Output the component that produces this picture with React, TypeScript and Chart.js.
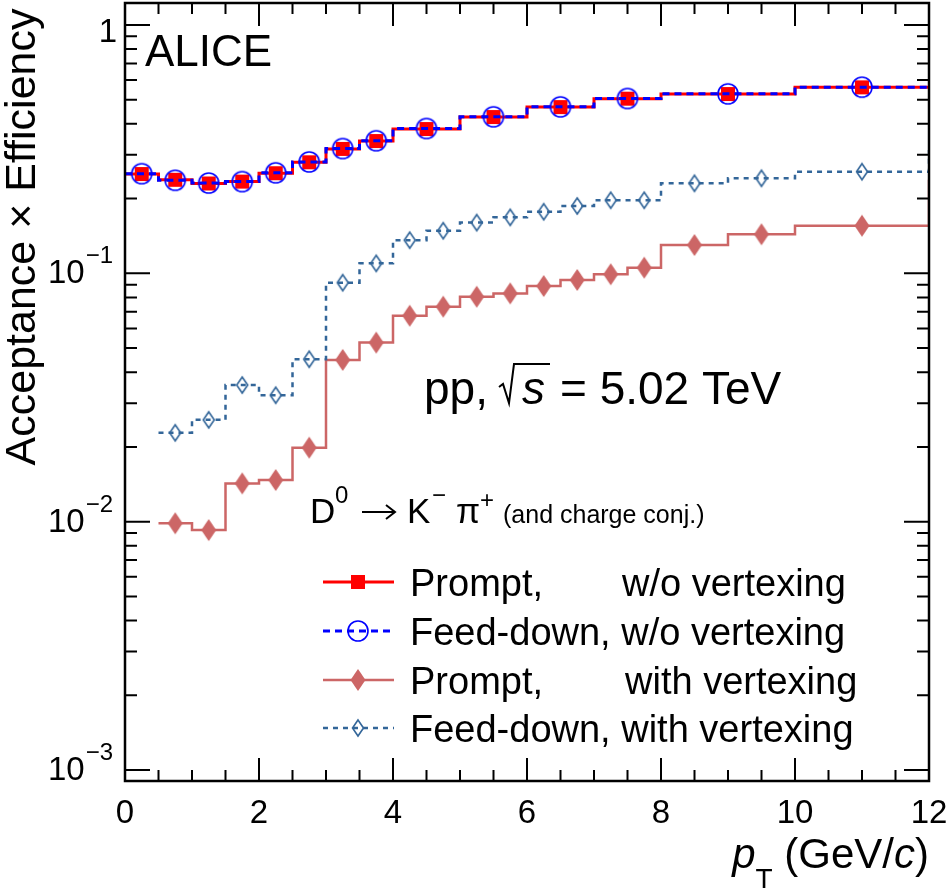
import React, { useEffect, useRef } from 'react';
import Chart from 'chart.js/auto';

// === Data ===
// pT bin edges, GeV/c
const EDGES_NO_VTX = [0, 0.5, 1, 1.5, 2, 2.5, 3, 3.5, 4, 5, 6, 7, 8, 10, 12];
const EDGES_VTX = [0.5, 1, 1.5, 2, 2.5, 3, 3.5, 4, 4.5, 5, 5.5, 6, 6.5, 7, 7.5, 8, 9, 10, 12];

const PROMPT_NO_VTX = [0.251, 0.238, 0.230, 0.234, 0.253, 0.280, 0.317, 0.341, 0.381, 0.426, 0.467, 0.505, 0.527, 0.561];
const FEEDDOWN_NO_VTX = [0.252, 0.237, 0.231, 0.234, 0.254, 0.281, 0.318, 0.342, 0.383, 0.427, 0.468, 0.506, 0.528, 0.562];

const PROMPT_VTX = [0.00985, 0.00925, 0.01426, 0.01471, 0.01986, 0.0448, 0.0526, 0.0675, 0.0734, 0.0805, 0.0830, 0.0889, 0.0940, 0.0991, 0.1054, 0.130, 0.1436, 0.1555];
const FEEDDOWN_VTX = [0.0228, 0.0257, 0.0355, 0.0323, 0.0451, 0.0917, 0.1097, 0.136, 0.1484, 0.160, 0.168, 0.177, 0.1867, 0.197, 0.197, 0.2304, 0.2413, 0.2566];

// the histograms with vertexing close with a step up at the last edge (overflow)
const PROMPT_VTX_OVERFLOW = 0.238;
const FEEDDOWN_VTX_OVERFLOW = 0.314;

const X_TICK_LABELS = [0, 2, 4, 6, 8, 10, 12];
const Y_DECADES = [0, -1, -2, -3];

const LEGEND_LABELS = [
  ['Prompt,', 'w/o vertexing'],
  ['Feed-down, w/o vertexing', ''],
  ['Prompt,', 'with vertexing'],
  ['Feed-down, with vertexing', ''],
];

// === Colours ===
const RED = '#ff0000';
const BLUE = '#0000ff';
const ROSE = '#cc6666';
const STEEL = '#336699';

const FAMILY = '"Liberation Sans", Arial, Helvetica, sans-serif';
const font = (size: number, italic = false) => `${italic ? 'italic ' : ''}${size}px ${FAMILY}`;

// === Helpers ===
// one point per bin at its low edge, plus the upper edge of the last bin;
// with stepped 'before' the line runs flat across each bin, then steps
const stepPoints = (edges: number[], vals: number[], overflow?: number) => {
  const pts = vals.map((v, i) => ({ x: edges[i], y: v }));
  pts.push({ x: edges[edges.length - 1], y: vals[vals.length - 1] });
  if (overflow !== undefined) pts.push({ x: edges[edges.length - 1], y: overflow });
  return pts;
};

const centerPoints = (edges: number[], vals: number[]) =>
  vals.map((v, i) => ({ x: (edges[i] + edges[i + 1]) / 2, y: v }));

const makeMarker = (kind: 'square' | 'circle' | 'diamond' | 'odiamond', color: string) => {
  const c = document.createElement('canvas');
  const size = 26;
  c.width = size;
  c.height = size;
  const g = c.getContext('2d')!;
  const m = size / 2;
  g.fillStyle = color;
  g.strokeStyle = color;
  if (kind === 'square') {
    g.fillRect(m - 7, m - 7, 14, 14);
  } else if (kind === 'circle') {
    g.lineWidth = 1.6;
    g.beginPath();
    g.arc(m, m, 10, 0, Math.PI * 2);
    g.stroke();
  } else if (kind === 'diamond') {
    g.beginPath();
    g.moveTo(m, m - 11);
    g.lineTo(m + 7.5, m);
    g.lineTo(m, m + 11);
    g.lineTo(m - 7.5, m);
    g.closePath();
    g.fill();
  } else {
    g.lineWidth = 1.6;
    g.beginPath();
    g.moveTo(m, m - 8);
    g.lineTo(m + 5.5, m);
    g.lineTo(m, m + 8);
    g.lineTo(m - 5.5, m);
    g.closePath();
    g.stroke();
  }
  return c;
};

// === Frame, ticks, labels, legend drawn ROOT-style ===
const makeDecorPlugin = (markers: Record<string, HTMLCanvasElement>) => ({
  id: 'rootDecor',
  afterDraw(chart: any) {
    const { ctx, chartArea: a } = chart;
    const xs = chart.scales.x;
    const ys = chart.scales.y;
    ctx.save();
    ctx.fillStyle = '#000';
    ctx.strokeStyle = '#000';

    // ticks
    ctx.lineWidth = 2;
    ctx.beginPath();
    for (let v = 0; v <= 12.001; v += 0.5) {
      const px = xs.getPixelForValue(v);
      const len = Math.abs(v % 2) < 1e-6 ? 23 : 11;
      ctx.moveTo(px, a.bottom);
      ctx.lineTo(px, a.bottom - len);
      ctx.moveTo(px, a.top);
      ctx.lineTo(px, a.top + len);
    }
    for (let e = -4; e <= 0; e++) {
      for (let k = 1; k <= 9; k++) {
        const v = k * Math.pow(10, e);
        if (v < ys.min || v > ys.max) continue;
        const py = ys.getPixelForValue(v);
        const len = k === 1 ? 25 : 12;
        ctx.moveTo(a.left, py);
        ctx.lineTo(a.left + len, py);
        ctx.moveTo(a.right, py);
        ctx.lineTo(a.right - len, py);
      }
    }
    ctx.stroke();

    // frame
    ctx.lineWidth = 2.5;
    ctx.strokeRect(a.left, a.top, a.right - a.left, a.bottom - a.top);

    // x tick labels
    ctx.font = font(33);
    ctx.textAlign = 'center';
    ctx.textBaseline = 'alphabetic';
    X_TICK_LABELS.forEach(v => ctx.fillText(String(v), xs.getPixelForValue(v), 823));

    // y tick labels (10^n)
    Y_DECADES.forEach(e => {
      const py = ys.getPixelForValue(Math.pow(10, e));
      if (e === 0) {
        ctx.font = font(33);
        ctx.textAlign = 'right';
        ctx.fillText('1', 117, py + 17);
        return;
      }
      const exp = `\u2212${-e}`;
      ctx.font = font(24);
      const we = ctx.measureText(exp).width;
      ctx.textAlign = 'left';
      ctx.fillText(exp, 113 - we, py - 10);
      ctx.font = font(33);
      ctx.textAlign = 'right';
      ctx.fillText('10', 112 - we, py + 10);
    });

    // y title
    ctx.save();
    ctx.translate(35, 237);
    ctx.rotate(-Math.PI / 2);
    ctx.font = font(43);
    ctx.textAlign = 'center';
    ctx.fillText('Acceptance \u00d7 Efficiency', 0, 0);
    ctx.restore();

    // x title: p_T (GeV/c), right aligned to the frame
    const parts: [string, string, number][] = [
      ['p', font(42, true), 0],
      ['T', font(28), 20],
      [' (GeV/', font(42), 0],
      ['c', font(42, true), 0],
      [')', font(42), 0],
    ];
    let total = 0;
    parts.forEach(([t, f]) => { ctx.font = f; total += ctx.measureText(t).width; });
    let cx = a.right - total;
    ctx.textAlign = 'left';
    parts.forEach(([t, f, dy]) => {
      ctx.font = f;
      ctx.fillText(t, cx, 868 + dy);
      cx += ctx.measureText(t).width;
    });

    // ALICE
    ctx.font = font(44);
    ctx.fillText('ALICE', 145, 66);

    // pp, sqrt(s) = 5.02 TeV
    ctx.font = font(46);
    ctx.fillText('pp,', 424, 404);
    ctx.lineWidth = 2;
    ctx.beginPath();
    ctx.moveTo(499, 387);
    ctx.lineTo(503, 384);
    ctx.lineTo(509, 403);
    ctx.lineTo(514, 364);
    ctx.lineTo(550, 364);
    ctx.stroke();
    ctx.font = font(46, true);
    ctx.fillText('s', 522, 404);
    ctx.font = font(46);
    ctx.fillText('= 5.02 TeV', 560, 404);

    // decay channel
    ctx.font = font(35);
    ctx.fillText('D', 310, 523);
    ctx.font = font(24);
    ctx.fillText('0', 335, 503);
    // arrow
    ctx.lineWidth = 2;
    ctx.beginPath();
    ctx.moveTo(362, 512);
    ctx.lineTo(394, 512);
    ctx.moveTo(386, 505);
    ctx.lineTo(395, 512);
    ctx.lineTo(386, 519);
    ctx.stroke();
    ctx.font = font(35);
    ctx.fillText('K', 407, 523);
    ctx.font = font(24);
    ctx.fillText('\u2212', 432, 503);
    ctx.font = font(35);
    ctx.fillText('\u03c0', 456, 523);
    ctx.font = font(24);
    ctx.fillText('+', 480, 508);
    ctx.font = font(25);
    ctx.fillText('(and charge conj.)', 503, 523);

    // legend
    const rows = [582, 631, 680, 728];
    const styles = [
      { color: RED, dash: [] as number[], width: 3, marker: markers.square },
      { color: BLUE, dash: [7, 5], width: 3, marker: markers.circle },
      { color: ROSE, dash: [] as number[], width: 2.5, marker: markers.diamond },
      { color: STEEL, dash: [5, 5], width: 2.5, marker: markers.odiamond },
    ];
    rows.forEach((ry, i) => {
      const s = styles[i];
      ctx.save();
      ctx.strokeStyle = s.color;
      ctx.lineWidth = s.width;
      ctx.setLineDash(s.dash);
      ctx.beginPath();
      ctx.moveTo(323, ry);
      ctx.lineTo(394, ry);
      ctx.stroke();
      ctx.restore();
      ctx.drawImage(s.marker, 358 - s.marker.width / 2, ry - s.marker.height / 2);
      ctx.font = font(38);
      ctx.fillStyle = '#000';
      ctx.textAlign = 'left';
      const [first, second] = LEGEND_LABELS[i];
      ctx.fillText(first, 410, ry + 14);
      if (second) ctx.fillText(second, i === 0 ? 622 : 625, ry + 14);
    });

    ctx.restore();
  },
});

const App: React.FC = () => {
  const canvasRef = useRef<HTMLCanvasElement>(null);

  useEffect(() => {
    document.body.style.margin = '0';
    if (!canvasRef.current) return;

    const markers = {
      square: makeMarker('square', RED),
      circle: makeMarker('circle', BLUE),
      diamond: makeMarker('diamond', ROSE),
      odiamond: makeMarker('odiamond', STEEL),
    };

    const stepLine = (data: any[], color: string, width: number, dash: number[], order: number) => ({
      type: 'line' as const,
      data,
      borderColor: color,
      borderWidth: width,
      borderDash: dash,
      stepped: 'before' as const,
      pointRadius: 0,
      fill: false,
      order,
    });
    const markerSet = (data: any[], img: HTMLCanvasElement, order: number) => ({
      type: 'scatter' as const,
      data,
      showLine: false,
      pointStyle: img,
      pointRadius: 10,
      order,
    });

    const chart = new Chart(canvasRef.current, {
      type: 'line',
      data: {
        datasets: [
          markerSet(centerPoints(EDGES_NO_VTX, FEEDDOWN_NO_VTX), markers.circle, 1),
          stepLine(stepPoints(EDGES_NO_VTX, FEEDDOWN_NO_VTX), BLUE, 3, [7, 5], 2),
          markerSet(centerPoints(EDGES_NO_VTX, PROMPT_NO_VTX), markers.square, 3),
          stepLine(stepPoints(EDGES_NO_VTX, PROMPT_NO_VTX), RED, 3, [], 4),
          markerSet(centerPoints(EDGES_VTX, FEEDDOWN_VTX), markers.odiamond, 5),
          stepLine(stepPoints(EDGES_VTX, FEEDDOWN_VTX, FEEDDOWN_VTX_OVERFLOW), STEEL, 2.5, [5, 5], 6),
          markerSet(centerPoints(EDGES_VTX, PROMPT_VTX), markers.diamond, 7),
          stepLine(stepPoints(EDGES_VTX, PROMPT_VTX, PROMPT_VTX_OVERFLOW), ROSE, 2.5, [], 8),
        ] as any,
      },
      options: {
        responsive: false,
        animation: false,
        layout: { autoPadding: false, padding: { left: 125, top: 3, right: 21, bottom: 112 } },
        plugins: { legend: { display: false }, tooltip: { enabled: false } },
        scales: {
          x: { type: 'linear', min: 0, max: 12, display: false },
          y: { type: 'logarithmic', min: 9.03e-4, max: 1.226, display: false },
        },
      },
      plugins: [makeDecorPlugin(markers)],
    });

    return () => chart.destroy();
  }, []);

  return (
    <div style={{ width: 950, height: 893, background: '#fff' }}>
      <canvas ref={canvasRef} width={950} height={893} />
    </div>
  );
};

export default App;
